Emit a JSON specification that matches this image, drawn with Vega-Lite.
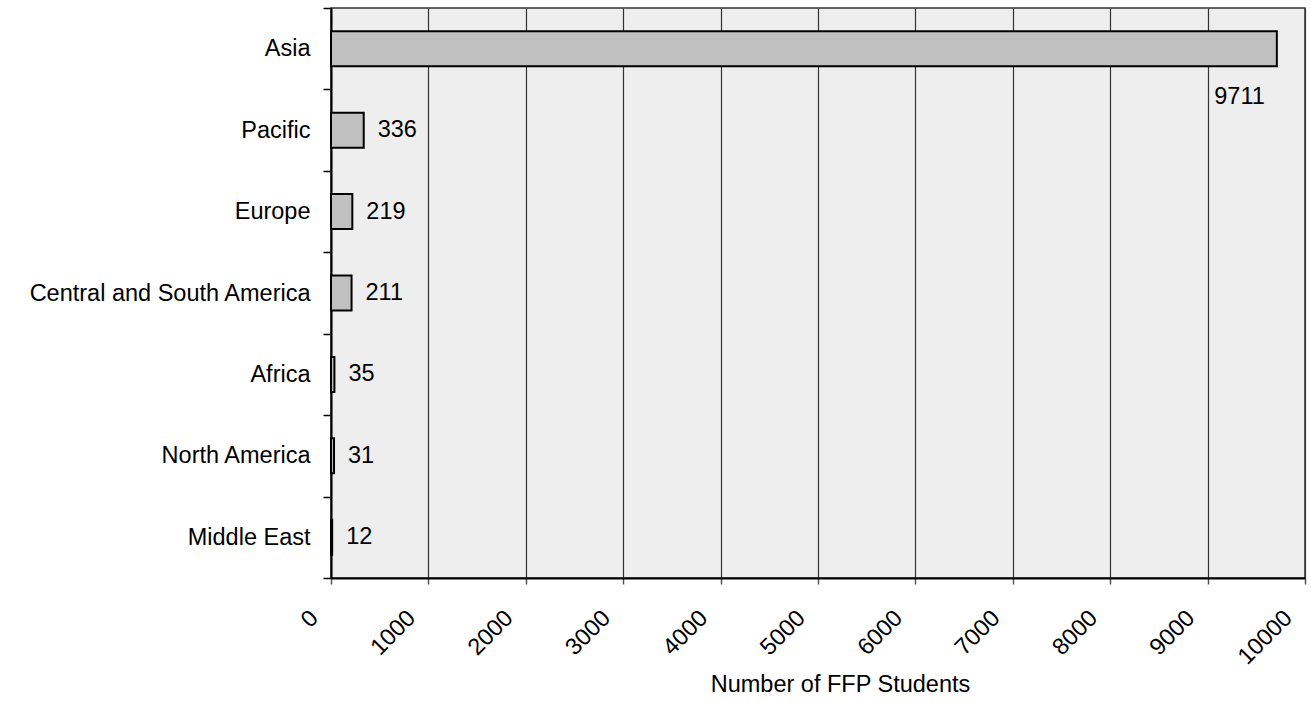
{
  "$schema": "https://vega.github.io/schema/vega-lite/v6.json",
  "width": 974,
  "height": 570,
  "autosize": {"type": "none"},
  "padding": {"left": 331, "top": 8, "right": 6, "bottom": 124},
  "background": "white",
  "config": {
    "font": "Liberation Sans",
    "view": {"fill": "#eeeeee", "stroke": "#333333", "strokeWidth": 1.5}
  },
  "data": {
    "values": [
      {"region": "Asia", "students": 9711},
      {"region": "Pacific", "students": 336},
      {"region": "Europe", "students": 219},
      {"region": "Central and South America", "students": 211},
      {"region": "Africa", "students": 35},
      {"region": "North America", "students": 31},
      {"region": "Middle East", "students": 12}
    ]
  },
  "encoding": {
    "y": {
      "field": "region",
      "type": "nominal",
      "sort": null,
      "scale": {"paddingInner": 0, "paddingOuter": 0},
      "axis": {
        "title": null,
        "tickBand": "extent",
        "grid": false,
        "domainColor": "black",
        "domainWidth": 2,
        "tickColor": "black",
        "tickWidth": 1.5,
        "tickSize": 8,
        "labelPadding": 13,
        "labelFontSize": 23.5,
        "labelColor": "black",
        "labelLimit": 400,
        "labelFont": "Liberation Sans"
      }
    },
    "x": {
      "field": "students",
      "type": "quantitative",
      "scale": {"domain": [0, 10000], "nice": false},
      "axis": {
        "title": "Number of FFP Students",
        "titleFontSize": 23.5,
        "titleFontWeight": "normal",
        "titleColor": "black",
        "titlePadding": 4,
        "titleX": 509,
        "values": [0, 1000, 2000, 3000, 4000, 5000, 6000, 7000, 8000, 9000, 10000],
        "format": "d",
        "grid": true,
        "gridColor": "#333333",
        "gridWidth": 1.2,
        "gridOpacity": 1,
        "domainColor": "black",
        "domainWidth": 2,
        "tickColor": "#555555",
        "tickWidth": 1.5,
        "tickSize": 6,
        "labelAngle": -45,
        "labelAlign": "right",
        "labelBaseline": "middle",
        "labelOffset": -17,
        "labelPadding": 30,
        "labelFontSize": 23.5,
        "labelColor": "black",
        "labelFlush": false,
        "labelOverlap": false
      }
    }
  },
  "layer": [
    {
      "mark": {"type": "bar", "fill": "#c0c0c0", "stroke": "black", "strokeWidth": 2, "height": {"band": 0.43}}
    },
    {
      "transform": [{"filter": "datum.region !== 'Asia'"}],
      "mark": {"type": "text", "align": "left", "baseline": "middle", "dx": 14, "fontSize": 23.5, "color": "black", "font": "Liberation Sans"},
      "encoding": {"text": {"field": "students", "type": "quantitative", "format": "d"}}
    },
    {
      "transform": [{"filter": "datum.region === 'Asia'"}],
      "mark": {"type": "text", "align": "right", "baseline": "middle", "dx": -12, "dy": 48, "fontSize": 23.5, "color": "black", "font": "Liberation Sans"},
      "encoding": {"text": {"field": "students", "type": "quantitative", "format": "d"}}
    }
  ]
}
